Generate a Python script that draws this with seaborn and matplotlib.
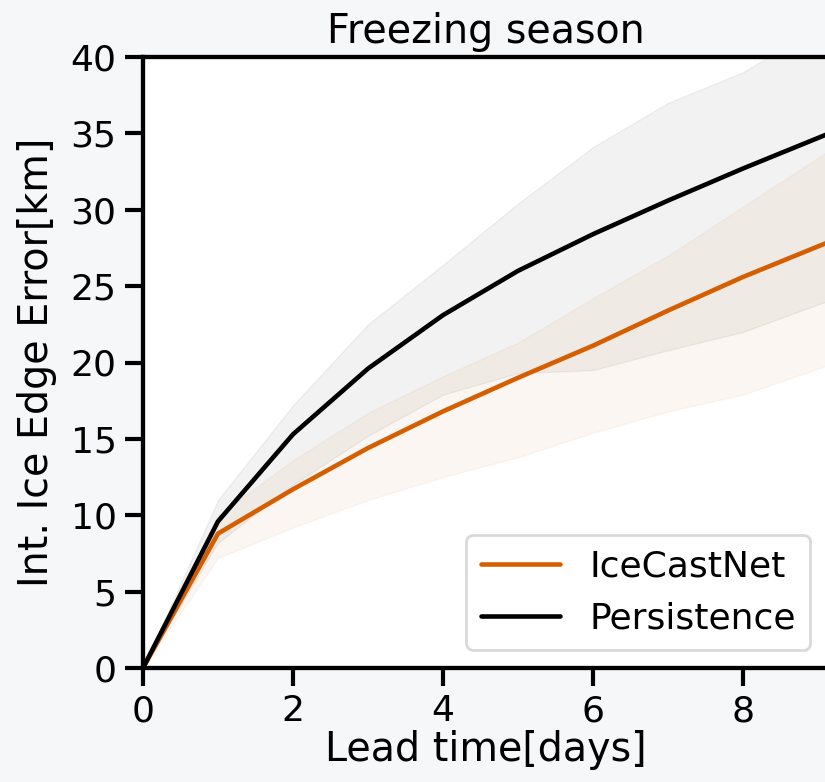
import numpy as np
import pandas as pd
import matplotlib
matplotlib.use("Agg")
import matplotlib.pyplot as plt
import seaborn as sns

# ---- data ----
lead_days = [0, 1, 2, 3, 4, 5, 6, 7, 8, 9, 10]
icecastnet_mean = [0, 8.8, 11.7, 14.4, 16.8, 19.0, 21.1, 23.4, 25.6, 27.6, 29.6]
icecastnet_low = [0, 7.2, 9.2, 11.0, 12.5, 13.8, 15.4, 16.8, 17.9, 19.6, 21.2]
icecastnet_high = [0, 10.0, 13.6, 16.7, 19.1, 21.3, 24.2, 27.0, 30.2, 33.4, 36.5]
persistence_mean = [0, 9.6, 15.3, 19.6, 23.1, 26.0, 28.4, 30.6, 32.7, 34.7, 36.7]
persistence_low = [0, 8.2, 12.0, 15.2, 17.9, 19.3, 19.5, 20.8, 22.0, 23.8, 25.5]
persistence_high = [0, 11.0, 17.2, 22.5, 26.4, 30.4, 34.1, 37.0, 39.0, 42.0, 45.0]
series_names = ["IceCastNet", "Persistence"]
series_colors = ["#d55e00", "#000000"]
x_ticks = [0, 2, 4, 6, 8]
y_ticks = [0, 5, 10, 15, 20, 25, 30, 35, 40]

df = pd.DataFrame({
    "lead": lead_days * 2,
    "err": icecastnet_mean + persistence_mean,
    "model": [series_names[0]] * len(lead_days) + [series_names[1]] * len(lead_days),
})

sns.set_theme(style="ticks")
plt.rcParams["font.family"] = ["DejaVu Sans"]
bg = "#f6f7f9"

ax_w_px = 686
fig = plt.figure(figsize=(8.25, 7.82), dpi=100, facecolor=bg)
ax = fig.add_axes([143 / 825, (782 - 668) / 782, ax_w_px / 825, 611 / 782])
ax.set_facecolor("white")

ax.fill_between(lead_days, persistence_low, persistence_high,
                color=series_colors[1], alpha=0.05, linewidth=1)
ax.fill_between(lead_days, icecastnet_low, icecastnet_high,
                color=series_colors[0], alpha=0.05, linewidth=1)

sns.lineplot(data=df, x="lead", y="err", hue="model", hue_order=series_names,
             palette=series_colors, linewidth=3.3, ax=ax)

ax.set_xlim(0, ax_w_px / 75)
ax.set_ylim(0, 40)
ax.set_xticks(x_ticks)
ax.set_yticks(y_ticks)
ax.tick_params(axis="both", labelsize=26, length=13, width=3, color="black",
               labelcolor="black", pad=6)
for s in ax.spines.values():
    s.set_linewidth(3.1)
    s.set_color("black")

ax.set_xlabel("Lead time[days]", fontsize=28.5, color="black", labelpad=1)
ax.set_ylabel("Int. Ice Edge Error[km]", fontsize=28.5, color="black", labelpad=10)
ax.set_title("Freezing season", fontsize=28.5, color="black", pad=10)

leg = ax.legend(loc="lower right", bbox_to_anchor=((810 - 143) / ax_w_px, 0.03),
                borderaxespad=0, fontsize=26, frameon=True, handlelength=2.2,
                title=None, labelcolor="black")
leg.get_frame().set_edgecolor("#d0d0d0")
leg.get_frame().set_linewidth(2)
for line in leg.get_lines():
    line.set_linewidth(3.3)

fig.savefig("out.png", dpi=100, facecolor=bg)
